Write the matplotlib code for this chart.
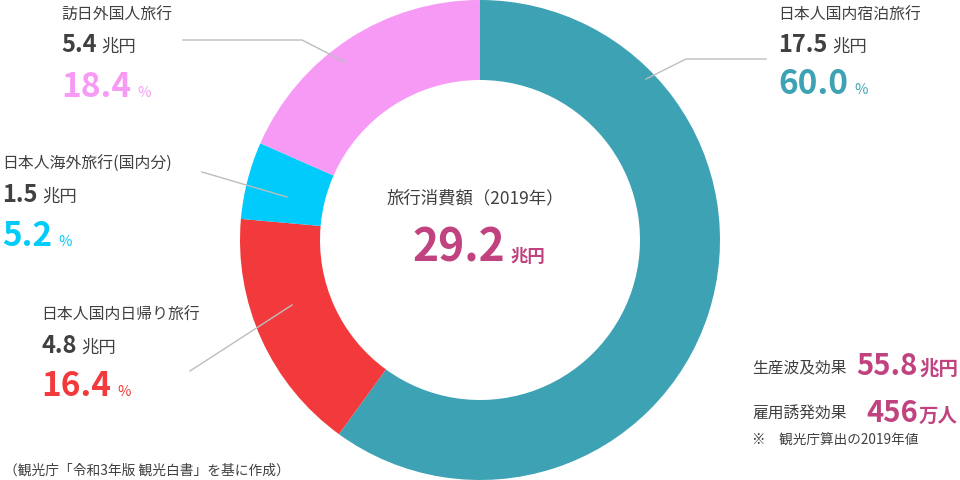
import matplotlib
matplotlib.use("Agg")
import matplotlib.pyplot as plt

plt.rcParams['font.family'] = ['Noto Sans CJK JP', 'DejaVu Sans']

# data
names = ['日本人国内宿泊旅行', '日本人国内日帰り旅行', '日本人海外旅行(国内分)', '訪日外国人旅行']
amounts = ['17.5', '4.8', '1.5', '5.4']
shares = [60.0, 16.4, 5.2, 18.4]
colors = ['#3EA2B5', '#F23A3C', '#00CBFA', '#F79AF6']
total = '29.2'
total_title = '旅行消費額（2019年）'
effect_names = ['生産波及効果', '雇用誘発効果']
effect_values = ['55.8', '456']
effect_units = ['兆円', '万人']
effect_note = '※　観光庁算出の2019年値'
source = '（観光庁「令和3年版 観光白書」を基に作成）'

DARK = '#404040'
MAGENTA = '#C0437F'
LINE = '#BDBDBD'

fig = plt.figure(figsize=(9.6, 4.8), dpi=100)
ax = fig.add_axes([0, 0, 1, 1])

# y is flipped below, so counterclock=True draws clockwise on screen
ax.pie(shares, colors=colors, startangle=-90, counterclock=True,
       center=(480, 240), radius=240, frame=True,
       wedgeprops=dict(width=80, linewidth=0))
# work in image pixels, y pointing down
ax.set_xlim(0, 960)
ax.set_ylim(480, 0)
ax.set_aspect('equal')
ax.axis('off')

fig.canvas.draw()
renderer = fig.canvas.get_renderer()


def with_unit(x, y, num, unit, color, size, usize, gap=4, ha='left',
              uweight='normal'):
    t = ax.text(x, y, num, color=color, fontsize=size, fontweight='bold',
                va='baseline', ha='left')
    bb = t.get_window_extent(renderer)
    u = ax.text(0, y, unit, color=color, fontsize=usize,
                fontweight=uweight, va='baseline', ha='left')
    ub = u.get_window_extent(renderer)
    if ha == 'right':
        x0 = x - ub.width - gap - bb.width
        t.set_x(x0)
        u.set_x(x0 + bb.width + gap)
    else:
        u.set_x(x + bb.width + gap)
    return t, u


# label blocks: (x, label center y, amount baseline, share baseline)
blocks = [(778, 15, 52, 94), (41, 315, 353, 396), (2, 164, 202, 246), (61, 15, 52, 97)]
for name, amt, sh, col, (bx, ly, ay, sy) in zip(names, amounts, shares, colors, blocks):
    ax.text(bx, ly, name, color=DARK, fontsize=11.4, va='center', ha='left')
    with_unit(bx, ay, amt, '兆円', DARK, 17, 12.5, gap=5)
    with_unit(bx, sy, f'{sh:.1f}', '%', col, 24, 10.5, gap=6)

# leader lines
ax.plot([646, 686, 766], [79, 59, 59], color=LINE, lw=1)
ax.plot([183, 302, 345], [40, 40, 62], color=LINE, lw=1)
ax.plot([202, 287], [172, 197], color=LINE, lw=1)
ax.plot([190, 292], [371, 305], color=LINE, lw=1)

# centre
ax.text(475, 198, total_title, color=DARK, fontsize=12.5, va='center', ha='center')
with_unit(412, 262, total, '兆円', MAGENTA, 32, 12.5, gap=6, uweight='bold')

# effects
for name, val, unit, ly, by in zip(effect_names, effect_values, effect_units, [368, 414], [375, 422]):
    ax.text(752, ly, name, color=DARK, fontsize=11.3, va='center', ha='left')
    with_unit(958, by, val, unit, MAGENTA, 21, 14, gap=1, ha='right', uweight='bold')
ax.text(752, 441, effect_note, color=DARK, fontsize=9.8, va='center', ha='left')

ax.text(4, 471, source, color=DARK, fontsize=9.9, va='center', ha='left')

fig.savefig('out.png', dpi=100)
